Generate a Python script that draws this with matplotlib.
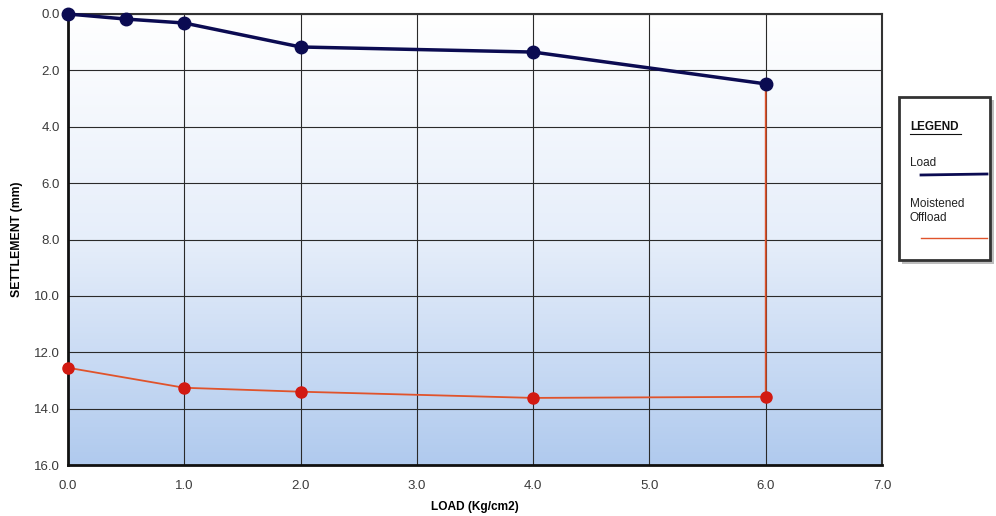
import matplotlib
matplotlib.use("Agg")
import matplotlib.pyplot as plt
import numpy as np
from matplotlib.colors import LinearSegmentedColormap
from matplotlib.patches import Rectangle

# load stage
load_x = [0.0, 0.5, 1.0, 2.0, 4.0, 6.0]
load_y = [0.0, 0.18, 0.32, 1.17, 1.35, 2.48]

# moistened offload stage (starts from the last loaded point)
off_x = [6.0, 6.0, 4.0, 2.0, 1.0, 0.0]
off_y = [2.48, 13.58, 13.62, 13.40, 13.26, 12.55]

x_ticks = [0, 1, 2, 3, 4, 5, 6, 7]
y_ticks = [0, 2, 4, 6, 8, 10, 12, 14, 16]

NAVY = "#0b0b52"
RED = "#d21a12"
ORANGE = "#e0532b"
TICK = "#3a3a3a"

plt.rcParams["font.family"] = ["Liberation Sans", "DejaVu Sans"]

W, H = 996, 516
fig = plt.figure(figsize=(W / 100, H / 100), dpi=100)
ax = fig.add_axes([68 / W, 1 - 465 / H, (882 - 68) / W, (465 - 14) / H])

# background gradient: white at the top, light blue at the bottom
cmap = LinearSegmentedColormap.from_list(
    "bg", [(0, "#ffffff"), (0.5, "#e6eefa"), (1, "#b0caee")])
grad = np.linspace(0, 1, 256).reshape(-1, 1)
ax.imshow(grad, cmap=cmap, aspect="auto", extent=[0, 7, 16, 0],
          origin="upper", zorder=0, interpolation="bicubic")

ax.set_xlim(0, 7)
ax.set_ylim(16, 0)
ax.set_xticks(x_ticks)
ax.set_yticks(y_ticks)
ax.set_xticklabels([f"{v:.1f}" for v in x_ticks])
ax.set_yticklabels([f"{v:.1f}" for v in y_ticks])
ax.tick_params(length=0, labelsize=9.5, colors=TICK)
ax.tick_params(axis="x", pad=11)
ax.tick_params(axis="y", pad=6)
ax.grid(True, color="#2a2a2a", lw=0.8, zorder=1)

for s in ["left", "bottom"]:
    ax.spines[s].set_linewidth(2.0)
    ax.spines[s].set_color("#111111")
for s in ["top", "right"]:
    ax.spines[s].set_linewidth(1.5)
    ax.spines[s].set_color("#333333")

ax.plot(off_x, off_y, color=ORANGE, lw=1.3, zorder=3)
ax.plot(off_x[1:], off_y[1:], ls="none", marker="o", ms=8,
        color=RED, mec=RED, zorder=4, clip_on=False)
ax.plot(load_x, load_y, color=NAVY, lw=2.5, marker="o", ms=9,
        mfc=NAVY, mec=NAVY, zorder=5, clip_on=False)

ax.set_xlabel("LOAD (Kg/cm2)", fontsize=8.6, fontweight="bold", labelpad=6)
ax.set_ylabel("SETTLEMENT (mm)", fontsize=8.8, fontweight="bold", labelpad=8)

# legend box on the right, laid out in pixel units
lg = fig.add_axes([0, 0, 1, 1], zorder=10)
lg.set_xlim(0, W)
lg.set_ylim(H, 0)
lg.axis("off")
lg.add_patch(Rectangle((902, 100), 92, 164, fc="#bdbdbd", ec="none"))
lg.add_patch(Rectangle((899, 97), 91, 163, fc="white", ec="#333333", lw=2.0))
lg.text(910, 127, "LEGEND", fontsize=8.5, fontweight="bold",
        va="center", ha="left", color="#111111")
lg.plot([910, 961], [134, 134], color="#111111", lw=0.8)
lg.text(910, 163, "Load", fontsize=8.5, va="center", ha="left", color="#222222")
lg.plot([921, 987], [175, 174], color=NAVY, lw=2.0)
lg.text(910, 211, "Moistened\nOffload", fontsize=8.5, va="center", ha="left",
        color="#222222", linespacing=1.3)
lg.plot([921, 987], [238, 238], color=ORANGE, lw=1.0)

fig.savefig("out.png", dpi=100, facecolor="white")
